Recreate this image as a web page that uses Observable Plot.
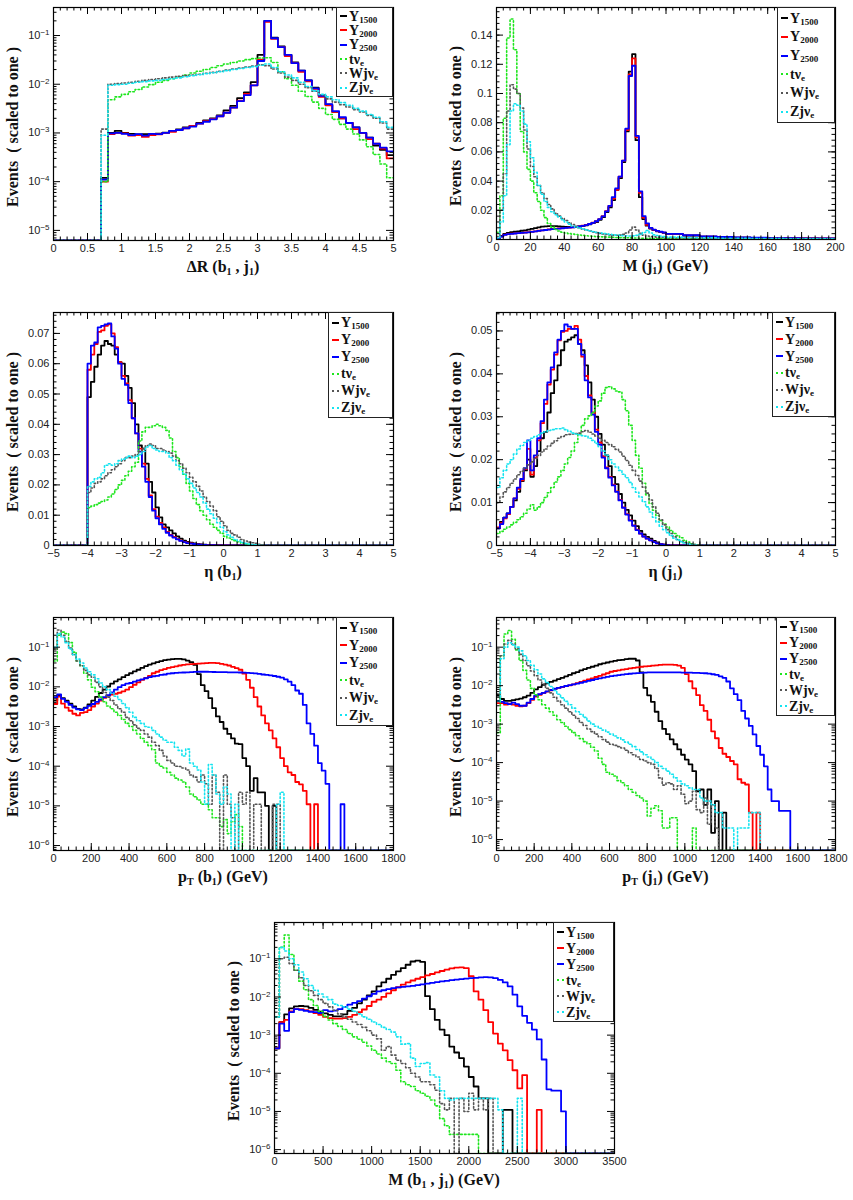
<!DOCTYPE html>
<html><head><meta charset="utf-8">
<script src="https://cdn.jsdelivr.net/npm/d3@7"></script>
<script src="https://cdn.jsdelivr.net/npm/@observablehq/plot@0.6"></script>
<style>
html,body{margin:0;padding:0;background:#fff;}
#page{position:relative;width:853px;height:1200px;overflow:hidden;background:#fff;}
.plot{position:absolute;}
.plot svg{display:block;overflow:visible;}
.ttl{position:absolute;font-family:"Liberation Serif","Times New Roman",serif;font-weight:bold;font-size:16px;color:#111;white-space:nowrap;line-height:1;}
.ttl sub{font-size:10px;vertical-align:-3px;line-height:0;}
.ytl{font-size:16px;}
.leg{position:absolute;box-sizing:border-box;border:1px solid #222;background:#fff;display:flex;flex-direction:column;justify-content:space-around;padding:1px 0;}
.leg .row{display:flex;align-items:center;height:13px;line-height:13px;font-family:"Liberation Serif","Times New Roman",serif;font-weight:bold;font-size:14px;color:#111;white-space:nowrap;}
.leg .smp{display:inline-block;width:7px;height:0;margin:0 2px 0 3px;}
.leg sub{font-size:9px;vertical-align:-2px;line-height:0;}
</style></head>
<body><div id="page"></div>
<script>
// ---------- legend ----------
const legNames = ["Y","Y","Y","tν","Wjν","Zjν"];
const legSubs = ["1500","2000","2500","e","e","e"];
const colors = ["#000000","#ff0000","#0000ff","#1ee61e","#555555","#14e4f0"];
const dotted = [false,false,false,true,true,true];

// ---------- Panel 1: ΔR(b1,j1), bins of 0.1 from 0.7 ----------
const dR_Y1500 = [1.2e-4,1.0e-3,1.1e-3,1.0e-3,9.6e-4,9.3e-4,9.5e-4,9.5e-4,9.7e-4,1.02e-3,1.1e-3,1.18e-3,1.3e-3,1.4e-3,1.6e-3,1.8e-3,2.0e-3,2.3e-3,2.9e-3,3.6e-3,5.2e-3,6.8e-3,1.1e-2,4.0e-2,0.2,0.09,0.06,0.04,0.028,0.019,0.012,0.0085,0.0058,0.0038,0.0027,0.002,0.0016,0.0013,0.001,8e-4,5.5e-4,4.5e-4,3.5e-4];
const dR_Y2000 = [1.0e-4,9.5e-4,1.0e-3,9.8e-4,8.8e-4,9.0e-4,8.3e-4,9.0e-4,9.4e-4,1.0e-3,1.05e-3,1.15e-3,1.25e-3,1.4e-3,1.55e-3,1.75e-3,1.95e-3,2.2e-3,2.6e-3,3.3e-3,4.6e-3,6.3e-3,9.5e-3,3.2e-2,0.19,0.085,0.058,0.038,0.027,0.018,0.0115,0.008,0.0055,0.0037,0.0027,0.002,0.0016,0.0012,0.001,7.5e-4,6e-4,4.8e-4,3e-4];
const dR_Y2500 = [1.1e-4,9.8e-4,1.0e-3,9.6e-4,9.0e-4,9.5e-4,8.8e-4,9.6e-4,9.5e-4,1.0e-3,1.1e-3,1.15e-3,1.25e-3,1.35e-3,1.55e-3,1.7e-3,1.9e-3,2.2e-3,2.6e-3,3.3e-3,4.5e-3,6.0e-3,9.5e-3,3.0e-2,0.2,0.088,0.058,0.04,0.027,0.019,0.012,0.0082,0.0058,0.0039,0.0028,0.0021,0.0016,0.0013,0.001,8e-4,6e-4,5e-4,4.2e-4];
const dR_tv = [1.0e-4,4.8e-3,5.5e-3,6.2e-3,7.0e-3,7.8e-3,8.8e-3,9.8e-3,1.1e-2,1.2e-2,1.3e-2,1.42e-2,1.55e-2,1.7e-2,1.85e-2,2.0e-2,2.2e-2,2.4e-2,2.6e-2,2.8e-2,3.0e-2,3.2e-2,3.35e-2,3.45e-2,3.5e-2,2.8e-2,1.8e-2,1.3e-2,9.5e-3,7.2e-3,5.6e-3,4.3e-3,3.2e-3,2.4e-3,1.9e-3,1.5e-3,1.2e-3,9.5e-4,7.2e-4,5.2e-4,3.6e-4,2.3e-4,1.2e-4];
const dR_Wjv = [1.2e-3,1.0e-2,1.03e-2,1.06e-2,1.1e-2,1.15e-2,1.2e-2,1.25e-2,1.3e-2,1.35e-2,1.4e-2,1.45e-2,1.5e-2,1.55e-2,1.6e-2,1.68e-2,1.75e-2,1.85e-2,1.95e-2,2.05e-2,2.15e-2,2.25e-2,2.35e-2,2.5e-2,2.4e-2,2.05e-2,1.7e-2,1.4e-2,1.2e-2,1.0e-2,8.5e-3,7.2e-3,6.0e-3,5.0e-3,4.3e-3,3.8e-3,3.4e-3,3.0e-3,2.7e-3,2.3e-3,2.0e-3,1.6e-3,1.2e-3];
const dR_Zjv = [9e-4,9.5e-3,9.8e-3,1.0e-2,1.05e-2,1.1e-2,1.13e-2,1.17e-2,1.2e-2,1.25e-2,1.3e-2,1.35e-2,1.42e-2,1.5e-2,1.57e-2,1.65e-2,1.72e-2,1.8e-2,1.9e-2,2.0e-2,2.1e-2,2.2e-2,2.3e-2,2.45e-2,2.6e-2,2.2e-2,1.8e-2,1.55e-2,1.35e-2,1.1e-2,9.0e-3,7.3e-3,6.2e-3,5.5e-3,4.8e-3,4.2e-3,3.7e-3,3.2e-3,2.8e-3,2.4e-3,2.1e-3,1.7e-3,1.3e-3];

// ---------- Panel 2: M(j1), 2 GeV bins to 100, then 10 GeV bins ----------
const mJ_Y1500 = [0.0003,0.0025,0.0038,0.0045,0.005,0.0053,0.0056,0.006,0.0063,0.0068, 0.0073,0.0078,0.0083,0.0088,0.009,0.0092,0.0092,0.0091,0.009,0.0088, 0.0087,0.0086,0.0086,0.0087,0.0089,0.0092,0.0097,0.0104,0.0112,0.012, 0.0135,0.0153,0.0187,0.022,0.027,0.034,0.042,0.053,0.074,0.115, 0.127,0.068,0.029,0.014,0.0095,0.0075,0.0064,0.0056,0.005,0.0045, 0.0037,0.0027,0.0019,0.0015,0.0012,0.001,0.0009,0.0008,0.0007,0.0006];
const mJ_Y2000 = [0.0003,0.002,0.0033,0.0038,0.004,0.0042,0.0044,0.0046,0.0048,0.005, 0.0053,0.0056,0.006,0.0063,0.0066,0.0069,0.0072,0.0074,0.0076,0.0078, 0.008,0.0082,0.0084,0.0087,0.009,0.0095,0.01,0.0107,0.0115,0.0125, 0.014,0.016,0.0195,0.023,0.028,0.034,0.043,0.054,0.075,0.113, 0.124,0.07,0.032,0.015,0.01,0.0078,0.0066,0.0058,0.0052,0.0047, 0.0038,0.0028,0.002,0.0016,0.0013,0.0011,0.001,0.0009,0.0008,0.0007];
const mJ_Y2500 = [0.0003,0.002,0.0032,0.0037,0.0039,0.0041,0.0043,0.0045,0.0047,0.0049, 0.0052,0.0055,0.0059,0.0062,0.0065,0.0068,0.0071,0.0073,0.0075,0.0077, 0.0079,0.0081,0.0083,0.0086,0.009,0.0094,0.0099,0.0106,0.0114,0.0125, 0.014,0.0158,0.0192,0.023,0.029,0.035,0.043,0.054,0.076,0.112, 0.119,0.071,0.033,0.016,0.011,0.008,0.0067,0.0059,0.0053,0.0048, 0.0039,0.0029,0.0021,0.0017,0.0014,0.0012,0.001,0.0009,0.0008,0.0007];
const mJ_tv = [0.005,0.03,0.083,0.138,0.151,0.13,0.1,0.074,0.06,0.048, 0.04,0.032,0.026,0.02,0.015,0.011,0.0085,0.0068,0.0058,0.005, 0.0045,0.004,0.0037,0.0034,0.0031,0.0028,0.0026,0.0024,0.0022,0.002, 0.0019,0.0018,0.0017,0.0016,0.0015,0.0014,0.0013,0.0012,0.0012,0.0011, 0.001,0.001,0.0009,0.0009,0.0008,0.0008,0.0007,0.0007,0.0006,0.0006, 0.0005,0.0004,0.0003,0.0003,0.0002,0.0002,0.0002,0.0001,0.0001,0.0001];
const mJ_Wjv = [0.002,0.02,0.045,0.088,0.106,0.103,0.1,0.09,0.075,0.062, 0.05,0.043,0.037,0.032,0.028,0.024,0.021,0.018,0.016,0.0145, 0.013,0.0115,0.0102,0.009,0.008,0.0072,0.0065,0.0058,0.0052,0.0047, 0.0042,0.0038,0.0035,0.0032,0.003,0.0029,0.003,0.0035,0.0045,0.0065, 0.0085,0.0065,0.0042,0.003,0.0024,0.002,0.0018,0.0016,0.0015,0.0014, 0.0012,0.001,0.0008,0.0007,0.0006,0.0005,0.0004,0.0004,0.0003,0.0003];
const mJ_Zjv = [0.001,0.012,0.03,0.065,0.088,0.093,0.092,0.088,0.079,0.067, 0.056,0.046,0.037,0.031,0.026,0.022,0.019,0.017,0.0155,0.0135, 0.012,0.0105,0.0092,0.0085,0.0078,0.0072,0.0066,0.006,0.0055,0.005, 0.0046,0.0042,0.0039,0.0035,0.0032,0.003,0.0028,0.0026,0.0025,0.0024, 0.0025,0.0028,0.0035,0.0048,0.0062,0.0045,0.0032,0.0027,0.0023,0.002, 0.0016,0.0013,0.0011,0.0009,0.0008,0.0007,0.0006,0.0005,0.0005,0.0004];

// ---------- Panel 3: η(b1), bins of 0.1 from -4 ----------
const etaB_Y1500 = [0.049,0.054,0.059,0.063,0.066,0.0675,0.0665,0.066,0.063,0.0605, 0.06,0.056,0.052,0.047,0.04,0.033,0.032,0.027,0.021,0.0175, 0.0126,0.0093,0.007,0.006,0.005,0.004,0.003,0.0023,0.0016,0.0012, 0.0009,0.0007,0.0005,0.0004,0.0003,0.0002,0.0002,0.0001,0.0001,0.0001,0.00005];
const etaB_Y2000 = [0.058,0.063,0.0665,0.0705,0.071,0.0725,0.073,0.07,0.0655,0.0605, 0.056,0.0535,0.048,0.042,0.037,0.032,0.027,0.022,0.0165,0.012, 0.0095,0.0075,0.006,0.0045,0.0035,0.0028,0.0021,0.0016,0.0012,0.0009, 0.0007,0.0005,0.0004,0.0003,0.0002,0.0002,0.0001,0.0001,0.00005,0.00005,0];
const etaB_Y2500 = [0.06,0.066,0.067,0.072,0.0725,0.073,0.0733,0.069,0.065,0.06, 0.055,0.053,0.047,0.042,0.037,0.031,0.026,0.021,0.016,0.0115, 0.009,0.007,0.0055,0.0042,0.0033,0.0026,0.002,0.0015,0.0011,0.0008, 0.0006,0.0005,0.0004,0.0003,0.0002,0.0001,0.0001,0.0001,0.00005,0,0];
const etaB_tv = [0.0125,0.013,0.0135,0.014,0.0145,0.015,0.016,0.017,0.0185,0.02, 0.0215,0.023,0.0245,0.026,0.0275,0.0345,0.0375,0.039,0.039,0.0395, 0.04,0.0395,0.039,0.038,0.0355,0.031,0.029,0.026,0.0235,0.0205, 0.018,0.0155,0.0135,0.0115,0.01,0.0085,0.007,0.006,0.005,0.004, 0.003,0.0025,0.002,0.0016,0.0012,0.0008,0.0005,0.0003,0.0001,0.00005,0,0];
const etaB_Wjv = [0.0175,0.019,0.0205,0.021,0.022,0.023,0.024,0.025,0.026,0.027, 0.028,0.029,0.029,0.0295,0.03,0.031,0.032,0.033,0.0335,0.033, 0.032,0.032,0.0315,0.031,0.0305,0.0295,0.028,0.027,0.0255,0.024, 0.0225,0.021,0.0195,0.018,0.016,0.0145,0.013,0.0115,0.0095,0.008, 0.0065,0.005,0.004,0.0035,0.0027,0.002,0.0015,0.0011,0.0009,0.0007,0.0004,0.0002];
const etaB_Zjv = [0.0195,0.021,0.022,0.0225,0.024,0.0265,0.027,0.0265,0.027,0.028, 0.0285,0.029,0.0295,0.029,0.0295,0.03,0.031,0.0325,0.033,0.032, 0.0315,0.031,0.031,0.0305,0.029,0.028,0.0265,0.025,0.0235,0.022, 0.0205,0.019,0.0175,0.016,0.014,0.012,0.0105,0.009,0.0075,0.006, 0.0045,0.0035,0.0027,0.002,0.0015,0.001,0.0007,0.0005,0.0003,0.0002,0.0001,0];

// ---------- Panel 4: η(j1), bins of 0.1 from -5 ----------
const etaJ_Y1500 = [0.004,0.0055,0.0065,0.0075,0.009,0.0105,0.0125,0.015,0.0175,0.02, 0.016,0.0185,0.022,0.025,0.0265,0.031,0.0355,0.0385,0.042,0.0455, 0.0475,0.048,0.0485,0.049,0.047,0.0455,0.042,0.038,0.034,0.03, 0.026,0.0235,0.021,0.0185,0.016,0.0143,0.012,0.01,0.0083,0.007, 0.0058,0.0045,0.0034,0.0026,0.002,0.0016,0.0011,0.0007,0.0004,0.0002,0.0001];
const etaJ_Y2000 = [0.0042,0.0052,0.0063,0.0073,0.009,0.011,0.0132,0.0152,0.0178,0.0225, 0.0165,0.0205,0.0245,0.0285,0.033,0.0375,0.041,0.0445,0.0478,0.0498, 0.05,0.0505,0.0505,0.0512,0.048,0.044,0.0395,0.035,0.031,0.027, 0.024,0.0208,0.0182,0.016,0.0142,0.0126,0.0106,0.0089,0.0073,0.0059, 0.0047,0.0037,0.0028,0.0021,0.0016,0.0012,0.0008,0.0005,0.0003,0.0002,0.0001];
const etaJ_Y2500 = [0.004,0.005,0.0065,0.0075,0.009,0.011,0.0135,0.0155,0.018,0.0245, 0.0175,0.021,0.025,0.029,0.034,0.038,0.0415,0.045,0.048,0.05, 0.0515,0.051,0.0505,0.0505,0.047,0.0445,0.0385,0.0345,0.0305,0.0265, 0.0235,0.0205,0.018,0.0158,0.014,0.0125,0.0105,0.0088,0.0072,0.0058, 0.0046,0.0036,0.0028,0.0021,0.0016,0.0012,0.0008,0.0005,0.0003,0.0002,0.0001];
const etaJ_tv = [0.0028,0.0033,0.0038,0.0043,0.0048,0.0054,0.006,0.0067,0.0075,0.0085, 0.0095,0.0082,0.009,0.01,0.0112,0.0123,0.0135,0.0148,0.016,0.0175, 0.019,0.0205,0.022,0.024,0.026,0.028,0.0295,0.0302,0.031,0.0325, 0.0337,0.0355,0.0368,0.037,0.0365,0.036,0.0358,0.034,0.0314,0.028, 0.0245,0.021,0.018,0.0145,0.0118,0.0098,0.0082,0.007,0.0058,0.005, 0.0043,0.0035,0.0028,0.0023,0.0018,0.0012,0.0008,0.0004,0.0002,0.0001];
const etaJ_Wjv = [0.01,0.0113,0.0125,0.0135,0.0145,0.0155,0.0165,0.0173,0.018,0.0188, 0.0195,0.0203,0.021,0.0218,0.0225,0.0232,0.0238,0.0244,0.025,0.0254, 0.0258,0.0259,0.026,0.0261,0.0262,0.0265,0.0268,0.0264,0.026,0.0255, 0.025,0.0245,0.024,0.0235,0.023,0.0224,0.0218,0.0208,0.0198,0.0187, 0.0175,0.0163,0.015,0.0136,0.0122,0.0106,0.009,0.0075,0.006,0.0048, 0.0037,0.0028,0.002,0.0014,0.001,0.0007,0.0005,0.0003,0.0002,0.0001];
const etaJ_Zjv = [0.0135,0.0158,0.0175,0.019,0.02,0.0213,0.0225,0.0233,0.024,0.0245, 0.025,0.0254,0.0258,0.0262,0.0265,0.0268,0.027,0.0272,0.0272,0.0274, 0.027,0.0266,0.0262,0.026,0.0258,0.0256,0.0255,0.025,0.0245,0.0238, 0.023,0.022,0.021,0.02,0.019,0.0183,0.0175,0.0166,0.0158,0.0147, 0.0135,0.0124,0.0113,0.0102,0.009,0.0078,0.0066,0.0055,0.0045,0.0037, 0.003,0.0023,0.0017,0.0013,0.0009,0.0006,0.0004,0.0002,0.0001,0];

// ---------- Panel 5: pT(b1), 20 GeV bins ----------
const ptB_Y1500 = [0.0045,0.0062,0.0052,0.0045,0.0038,0.0032,0.0028,0.0027,0.003,0.0036, 0.0045,0.0056,0.007,0.0085,0.0102,0.012,0.0138,0.0155,0.0175,0.0198, 0.022,0.0245,0.027,0.03,0.0335,0.0365,0.039,0.042,0.0445,0.047, 0.0485,0.05,0.051,0.0505,0.049,0.046,0.042,0.036,0.021,0.011, 0.0078,0.0052,0.0029,0.0018,0.0013,0.00088,0.00065,0.0005,0.00037,0.00036, 0.00016,0.0001,0.000024,0.00005,0.000022,0.000022,0.00001,0,0.00001,0];
const ptB_Y2000 = [0.0037,0.0057,0.0038,0.003,0.0025,0.0021,0.0019,0.0022,0.0023,0.0026, 0.0032,0.0038,0.0045,0.0053,0.006,0.0064,0.0067,0.0071,0.0077,0.0085, 0.0098,0.0113,0.013,0.015,0.0168,0.019,0.022,0.024,0.0265,0.028, 0.03,0.0315,0.033,0.0345,0.036,0.037,0.0375,0.038,0.0385,0.039, 0.0395,0.04,0.04,0.0395,0.038,0.0365,0.0345,0.032,0.0295,0.027, 0.0215,0.015,0.0095,0.0055,0.0032,0.0019,0.0012,0.0008,0.0005,0.0003, 0.00016,0.0001,0.00007,0.00006,0.00004,0.000035,0.000024,0.000011,0,0.000011];
const ptB_Y2500 = [0.0055,0.0065,0.005,0.0042,0.0035,0.003,0.0027,0.0026,0.0029,0.0033, 0.0037,0.0042,0.0048,0.0055,0.0062,0.0072,0.0085,0.0098,0.011,0.012, 0.0125,0.0135,0.0145,0.0155,0.0165,0.0175,0.0185,0.019,0.02,0.0205, 0.0215,0.022,0.0225,0.0228,0.023,0.0232,0.0235,0.0238,0.024,0.024, 0.024,0.0238,0.0237,0.0236,0.0235,0.0234,0.0233,0.0232,0.0231,0.023, 0.0228,0.0225,0.0222,0.0218,0.0212,0.0205,0.02,0.0195,0.0188,0.018, 0.017,0.0155,0.0135,0.011,0.0081,0.0067,0.0035,0.0012,0.00065,0.00033, 0.00012,0.000077,0.000036,0,0,0,0.000011,0];
const ptB_tv = [0.045,0.2,0.24,0.22,0.13,0.075,0.045,0.034,0.022,0.015, 0.0098,0.0075,0.0055,0.0042,0.0033,0.0028,0.0023,0.0019,0.0015,0.0012, 0.001,0.0008,0.00065,0.0005,0.0004,0.00033,0.00026,0.00012,0.0001,0.00009, 0.00007,0.00006,0.00005,0.000045,0.00004,0.00003,0.00002,0.000017,0.000014,0.000011, 0.000011,0.000008,0.000005,0.000005,0.000003,0.0000045,0.000002,0.000004,0.000006,0.000003, 0];
const ptB_Wjv = [0.09,0.27,0.2,0.14,0.095,0.065,0.045,0.034,0.026,0.02, 0.0175,0.013,0.01,0.0072,0.0055,0.0045,0.0035,0.0028,0.0023,0.0017, 0.0014,0.0011,0.0009,0.0008,0.00065,0.00054,0.0004,0.00033,0.00025,0.00018, 0.00014,0.00012,0.0001,0.000098,0.00009,0.00008,0.00006,0.000053,0.00004,0.00006, 0.000036,0.000011,0.00006,0.000022,0,0.00006,0.000011,0.000005,0,0.000022, 0.000011,0.000022,0,0.000011,0.000011,0,0,0,0.000011,0.000011];
const ptB_Zjv = [0.1,0.22,0.18,0.13,0.09,0.065,0.05,0.04,0.03,0.024, 0.02,0.016,0.0125,0.01,0.0085,0.007,0.0058,0.0048,0.0038,0.003, 0.0023,0.0017,0.0014,0.0012,0.001,0.00096,0.0008,0.00065,0.00054,0.00045, 0.0004,0.0004,0.0003,0.00025,0.00018,0.00027,0.00012,0.0001,0.00008,0.00004, 0.000011,0.00011,0.00006,0.00002,0.000011,0.00003,0.00002,0,0.000011,0, 0,0,0,0,0,0,0,0,0,0.000011, 0.000022,0];

// ---------- Panel 6: pT(j1), 20 GeV bins ----------
const ptJ_Y1500 = [0.0055,0.0045,0.004,0.004,0.0042,0.0044,0.0046,0.005,0.0055,0.0065, 0.008,0.0092,0.0105,0.0115,0.0125,0.0135,0.0148,0.016,0.0175,0.019, 0.021,0.0225,0.025,0.027,0.029,0.031,0.033,0.036,0.038,0.04, 0.042,0.044,0.046,0.047,0.049,0.05,0.05,0.045,0.022,0.0088, 0.0056,0.0038,0.0021,0.0012,0.00075,0.00055,0.0004,0.0003,0.00022,0.00016, 0.00012,0.00009,0.00006,0.000018,0.00002,0.000008,0.00002,0.0000015,0.00001,0, 0.000005,0];
const ptJ_Y2000 = [0.0035,0.0035,0.0032,0.0034,0.0032,0.003,0.0029,0.003,0.0035,0.0043, 0.0052,0.0058,0.0064,0.007,0.0076,0.0082,0.0087,0.0092,0.0097,0.0102, 0.0108,0.0116,0.0125,0.0135,0.0145,0.0155,0.0168,0.018,0.0195,0.021, 0.023,0.024,0.025,0.026,0.027,0.028,0.029,0.03,0.031,0.0315, 0.032,0.033,0.0338,0.0345,0.035,0.0352,0.035,0.0345,0.033,0.029, 0.02,0.013,0.0085,0.0057,0.0031,0.0022,0.0013,0.00065,0.00043,0.00024, 0.00017,0.00014,0.00011,0.00009,0.000037,0.00003,0.000027,0.000005,0,0.000005];
const ptJ_Y2500 = [0.004,0.0038,0.0035,0.0033,0.0036,0.0033,0.003,0.003,0.0036,0.0045, 0.0055,0.006,0.0065,0.0071,0.0077,0.0083,0.0088,0.0093,0.0098,0.0103, 0.0108,0.0113,0.0119,0.0126,0.0133,0.014,0.0148,0.0155,0.0162,0.017, 0.0176,0.0182,0.0188,0.0194,0.0199,0.0204,0.0208,0.0212,0.0215,0.0218, 0.022,0.0221,0.0222,0.0222,0.0222,0.0222,0.0221,0.022,0.022,0.0219, 0.0218,0.0217,0.0216,0.0214,0.0212,0.021,0.0205,0.0198,0.019,0.0175, 0.016,0.0128,0.0085,0.006,0.0042,0.0022,0.0014,0.0009,0.00054,0.00027, 0.00016,0.00008,0.00002,0.00001,0.00001,0.0000056,0.0000056,0.0000056,0];
const ptJ_tv = [0.0006,0.06,0.22,0.27,0.16,0.085,0.045,0.025,0.014,0.0085, 0.0058,0.0043,0.0032,0.0026,0.0021,0.0017,0.0013,0.0011,0.00088,0.00072, 0.0006,0.0005,0.00042,0.00035,0.00031,0.00025,0.0002,0.00013,0.00009,0.000056, 0.00005,0.000045,0.000034,0.00003,0.000025,0.00002,0.000017,0.000014,0.000012,0.00001, 0.0000041,0.0000065,0.0000076,0.0000056,0.000002,0.000002,0.0000037,0.0000037,0,0, 0,0,0.000002,0];
const ptJ_Wjv = [0.006,0.06,0.12,0.15,0.12,0.09,0.065,0.045,0.033,0.024, 0.018,0.014,0.011,0.0085,0.0065,0.005,0.004,0.0032,0.0026,0.0021, 0.0017,0.0014,0.0011,0.00092,0.00075,0.00064,0.00055,0.00047,0.0004,0.00034, 0.0003,0.00028,0.00026,0.00024,0.00021,0.00018,0.00016,0.00014,0.00012,0.00011, 0.0001,0.00009,0.00007,0.00004,0.000026,0.00003,0.000028,0.00002,0.000025,0.000015, 0.0000085,0.00001,0.000018,0.000006,0.000005,0.000012,0.0000025,0.000008,0.000002,0];
const ptJ_Zjv = [0.004,0.05,0.1,0.13,0.115,0.1,0.08,0.06,0.045,0.034, 0.026,0.02,0.015,0.012,0.0095,0.0075,0.006,0.0048,0.0039,0.0032, 0.0026,0.0021,0.0018,0.0015,0.0012,0.001,0.00088,0.00078,0.0007,0.00062, 0.00055,0.00049,0.00044,0.00039,0.00034,0.0003,0.00026,0.00022,0.00019,0.00016, 0.00014,0.00012,0.0001,0.00008,0.00007,0.00006,0.00005,0.00004,0.000033,0.000028, 0.000025,0.000022,0.00002,0.00002,0.000012,0.00001,0.00001,0.000008,0.000005,0.000005, 0.000002,0.000002,0.000002,0,0.000002,0.000002,0.000002,0.000005,0.000005,0.000005,0];

// ---------- Panel 7: M(b1,j1), 50 GeV bins ----------
const mBJ_Y1500 = [0.00045,0.0022,0.0035,0.005,0.0057,0.0058,0.0057,0.0052,0.0046,0.0041, 0.0037,0.0034,0.0031,0.0031,0.0035,0.0043,0.0052,0.0068,0.0085,0.011, 0.014,0.019,0.024,0.03,0.038,0.047,0.057,0.07,0.085,0.09, 0.083,0.0105,0.0048,0.0025,0.0014,0.001,0.0005,0.00035,0.00025,0.00015, 0.00008,0.000045,0.000022,0.000022,0,0,0,0.000011,0.000011,0];
const mBJ_Y2000 = [0.00045,0.0022,0.0025,0.0042,0.0048,0.0048,0.0045,0.0042,0.0038,0.0034, 0.003,0.0028,0.0027,0.0027,0.0028,0.003,0.0034,0.004,0.0047,0.0058, 0.0075,0.0085,0.01,0.0125,0.015,0.018,0.021,0.024,0.027,0.03, 0.033,0.037,0.04,0.044,0.048,0.052,0.056,0.059,0.06,0.057, 0.035,0.014,0.0085,0.0045,0.0022,0.0011,0.0006,0.0004,0.00022,0.00012, 0.00004,0.00009,0,0,0.000011,0];
const mBJ_Y2500 = [0.00045,0.002,0.0013,0.004,0.0048,0.0046,0.0043,0.0041,0.004,0.0038, 0.0045,0.0042,0.0044,0.0048,0.0055,0.0063,0.007,0.0078,0.009,0.0104, 0.012,0.014,0.015,0.016,0.017,0.0178,0.0185,0.019,0.0195,0.0205, 0.0215,0.0225,0.0235,0.0245,0.0256,0.0265,0.0275,0.0285,0.0295,0.0303, 0.031,0.0318,0.0325,0.033,0.0325,0.031,0.028,0.024,0.019,0.0115, 0.0057,0.0032,0.0021,0.0014,0.00077,0.00023,0.000038,0.000035,0.000035,0.00001];
const mBJ_tv = [0.003,0.2,0.42,0.13,0.05,0.026,0.0155,0.0085,0.006,0.0042, 0.0031,0.0025,0.002,0.0017,0.0014,0.0011,0.0009,0.00078,0.00065,0.00052, 0.0004,0.00032,0.00025,0.0002,0.00018,0.00012,0.00006,0.00005,0.000045,0.000035, 0.00003,0.000025,0.00002,0.000014,0.0000065,0.0000042,0.0000025,0.0000025,0.0000025,0.0000025, 0.0000025,0.0000025,0];
const mBJ_Wjv = [0.003,0.1,0.11,0.075,0.05,0.032,0.02,0.0145,0.011,0.0085, 0.0068,0.0055,0.0045,0.0036,0.003,0.0026,0.0022,0.0019,0.0016,0.0013, 0.001,0.0008,0.0004,0.0005,0.0003,0.00022,0.00018,0.00014,0.0001,0.00008, 0.00006,0.00006,0.00005,0.000036,0.000016,0.000011,0.000022,0,0.000022,0.00001, 0.00003,0.000011,0.000022,0.000011,0.000022,0];
const mBJ_Zjv = [0.003,0.2,0.16,0.1,0.07,0.045,0.03,0.02,0.015,0.012, 0.01,0.0085,0.0065,0.006,0.0055,0.0048,0.0042,0.0036,0.003,0.0026, 0.0022,0.0019,0.0016,0.0014,0.0012,0.0009,0.00058,0.0006,0.00025,0.00015, 0.00018,0.00019,0.00009,0.00008,0.000035,0.000022,0.00002,0.000022,0.000022,0.000022, 0.000022,0.000022,0.000022,0.000022,0.000022,0.000022,0.000011,0,0,0, 0.000022,0];

// ---------- helpers ----------
const uni = (start, w) => i => +(start + i * w).toFixed(6);
const mJedge = i => i <= 50 ? 2 * i : 100 + (i - 50) * 10;
const logFmt = d => "10^" + Math.round(Math.log10(d));
const decTicks = (a, b) => { const t = []; for (let e = -8; e <= 1; e++) { const v = Math.pow(10, e); if (v >= a && v <= b) t.push(v); } return t; };
const logMinor = (a, b) => { const t = []; for (let e = -8; e <= 1; e++) for (let k = 2; k <= 9; k++) { const v = k * Math.pow(10, e); if (v > a && v < b) t.push(v); } return t; };
const linFmt = d => d === 0 ? "0" : (+d.toFixed(3)).toString();
const negFmt = d => d < 0 ? "\u2212" + (-d) : String(d);

const panels = [
  {f:{l:53,t:7,w:340,h:233}, x:[0,5], y:[6.2e-6,0.376], log:true,
   xt:d3.range(0,5.001,0.5), xm:d3.range(0,5.001,0.1), xf:d=>String(+d.toFixed(1)),
   s:[dR_Y1500,dR_Y2000,dR_Y2500,dR_tv,dR_Wjv,dR_Zjv], se:uni(0.7,0.1), be:uni(0.7,0.1),
   leg:{l:336,t:7,w:57,h:90}, xtitle:"ΔR (b<sub>1</sub> , j<sub>1</sub>)"},
  {f:{l:496,t:7,w:339,h:232}, x:[0,200], y:[0,0.1589], log:false,
   xt:d3.range(0,201,20), xm:d3.range(0,201,4), xf:String, yt:[0,0.02,0.04,0.06,0.08,0.1,0.12,0.14], ym:d3.range(0,0.1589,0.004),
   s:[mJ_Y1500,mJ_Y2000,mJ_Y2500,mJ_tv,mJ_Wjv,mJ_Zjv], se:mJedge, be:mJedge,
   leg:{l:777,t:7,w:58,h:116}, xtitle:"M (j<sub>1</sub>) (GeV)"},
  {f:{l:53,t:312,w:340,h:233}, x:[-5,5], y:[0,0.0769], log:false,
   xt:d3.range(-5,5.001,1), xm:d3.range(-5,5.001,0.2), xf:negFmt, yt:[0,0.01,0.02,0.03,0.04,0.05,0.06,0.07], ym:d3.range(0,0.0769,0.002),
   s:[etaB_Y1500,etaB_Y2000,etaB_Y2500,etaB_tv,etaB_Wjv,etaB_Zjv], se:uni(-4,0.1), be:uni(-4,0.1),
   leg:{l:328,t:312,w:65,h:106}, xtitle:"η (b<sub>1</sub>)"},
  {f:{l:496,t:312,w:339,h:233}, x:[-5,5], y:[0,0.0543], log:false,
   xt:d3.range(-5,5.001,1), xm:d3.range(-5,5.001,0.2), xf:negFmt, yt:[0,0.01,0.02,0.03,0.04,0.05], ym:d3.range(0,0.0543,0.002),
   s:[etaJ_Y1500,etaJ_Y2000,etaJ_Y2500,etaJ_tv,etaJ_Wjv,etaJ_Zjv], se:uni(-5,0.1), be:uni(-5,0.1),
   leg:{l:772,t:312,w:63,h:105}, xtitle:"η (j<sub>1</sub>)"},
  {f:{l:53,t:617,w:340,h:233}, x:[0,1800], y:[7.5e-7,0.56], log:true,
   xt:d3.range(0,1801,200), xm:d3.range(0,1801,40), xf:String,
   s:[ptB_Y1500,ptB_Y2000,ptB_Y2500,ptB_tv,ptB_Wjv,ptB_Zjv], se:uni(0,20), be:uni(0,20),
   leg:{l:336,t:617,w:57,h:109}, xtitle:"p<sub>T</sub> (b<sub>1</sub>) (GeV)"},
  {f:{l:496,t:617,w:339,h:233}, x:[0,1800], y:[5.2e-7,0.59], log:true,
   xt:d3.range(0,1801,200), xm:d3.range(0,1801,40), xf:String,
   s:[ptJ_Y1500,ptJ_Y2000,ptJ_Y2500,ptJ_tv,ptJ_Wjv,ptJ_Zjv], se:uni(0,20), be:uni(0,20),
   leg:{l:776,t:617,w:59,h:99}, xtitle:"p<sub>T</sub> (j<sub>1</sub>) (GeV)"},
  {f:{l:274,t:922,w:340,h:231}, x:[0,3500], y:[7.9e-7,0.895], log:true,
   xt:d3.range(0,3501,500), xm:d3.range(0,3501,100), xf:String,
   s:[mBJ_Y1500,mBJ_Y2000,mBJ_Y2500,mBJ_tv,mBJ_Wjv,mBJ_Zjv], se:uni(0,50), be:uni(0,50),
   leg:{l:553,t:922,w:61,h:100}, xtitle:"M (b<sub>1</sub> , j<sub>1</sub>) (GeV)"}
];

function stepPoints(vals, edge, floor, x0, x1) {
  const pts = [];
  if (edge(0) > x0) pts.push({x: x0, y: floor});
  vals.forEach((v, i) => pts.push({x: edge(i), y: v > 0 ? v : floor}));
  const n = vals.length, end = edge(n);
  const last = vals[n - 1] > 0 ? vals[n - 1] : floor;
  pts.push({x: Math.min(end, x1), y: last});
  if (end < x1) { pts.push({x: end, y: floor}); pts.push({x: x1, y: floor}); }
  return pts;
}

const page = document.getElementById("page");
const ML = 50, MR = 6, MT = 6, MB = 26;
const NS = "http://www.w3.org/2000/svg";

panels.forEach(p => {
  const {l, t, w, h} = p.f;
  const floor = p.y[0];
  const yt = p.log ? decTicks(p.y[0], p.y[1]) : p.yt;
  const ym = p.log ? logMinor(p.y[0], p.y[1]) : p.ym;
  const marks = [];
  p.s.forEach((vals, k) => {
    const edge = k < 3 ? p.se : p.be;
    marks.push(Plot.line(stepPoints(vals, edge, floor, p.x[0], p.x[1]), {
      x: "x", y: "y", curve: "step-after", stroke: colors[k],
      strokeWidth: dotted[k] ? 1.6 : 1.8,
      strokeDasharray: dotted[k] ? "1.6,2.2" : null, clip: true
    }));
  });
  const LT = 7, ST = 3.5;
  const rs = {stroke: "#000", strokeWidth: 1};
  marks.push(
    Plot.ruleX(p.xt, {...rs, insetTop: h - LT}), Plot.ruleX(p.xt, {...rs, insetBottom: h - LT}),
    Plot.ruleX(p.xm, {...rs, insetTop: h - ST}), Plot.ruleX(p.xm, {...rs, insetBottom: h - ST}),
    Plot.ruleY(yt, {...rs, insetRight: w - LT}), Plot.ruleY(yt, {...rs, insetLeft: w - LT}),
    Plot.ruleY(ym, {...rs, insetRight: w - ST}), Plot.ruleY(ym, {...rs, insetLeft: w - ST}),
    Plot.frame({stroke: "#000", strokeWidth: 1.2}),
    Plot.axisX(p.xt, {tickSize: 0, tickPadding: 4, tickFormat: p.xf, fontSize: 11, label: null}),
    Plot.axisY(yt, {tickSize: 0, tickPadding: 4, tickFormat: p.log ? logFmt : linFmt, fontSize: 11, label: null})
  );
  const svg = Plot.plot({
    width: w + ML + MR, height: h + MT + MB,
    marginLeft: ML, marginRight: MR, marginTop: MT, marginBottom: MB,
    x: {domain: p.x, label: null},
    y: {type: p.log ? "log" : "linear", domain: p.y, label: null},
    style: {fontFamily: "'Liberation Sans', Arial, Helvetica, sans-serif", fontSize: "11px", color: "#222", background: "transparent"},
    marks
  });
  svg.querySelectorAll("text").forEach(tx => {
    const m = /^10\^(-?\d+)$/.exec(tx.textContent);
    if (m) {
      tx.textContent = "10";
      const ts = document.createElementNS(NS, "tspan");
      ts.setAttribute("dy", "-0.5em");
      ts.setAttribute("font-size", "8");
      ts.textContent = m[1].replace("-", "\u2212");
      tx.appendChild(ts);
    }
  });
  const holder = document.createElement("div");
  holder.className = "plot";
  holder.style.left = (l - ML) + "px";
  holder.style.top = (t - MT) + "px";
  holder.appendChild(svg);
  page.appendChild(holder);

  const xt = document.createElement("div");
  xt.className = "ttl";
  xt.innerHTML = p.xtitle;
  xt.style.left = (l + w / 2) + "px";
  xt.style.top = (t + h + 27) + "px";
  xt.style.transform = "translate(-50%,-50%)";
  page.appendChild(xt);
  const yl = document.createElement("div");
  yl.className = "ttl ytl";
  yl.textContent = "Events  ( scaled to one )";
  yl.style.whiteSpace = "pre";
  yl.style.left = (l - 40) + "px";
  yl.style.top = (t + h / 2 + 3) + "px";
  yl.style.transform = "translate(-50%,-50%) rotate(-90deg)";
  page.appendChild(yl);

  const lg = document.createElement("div");
  lg.className = "leg";
  Object.assign(lg.style, {left: p.leg.l + "px", top: p.leg.t + "px", width: p.leg.w + "px", height: p.leg.h + "px"});
  legNames.forEach((n, k) => {
    const row = document.createElement("div");
    row.className = "row";
    const smp = document.createElement("span");
    smp.className = "smp";
    smp.style.borderTop = (dotted[k] ? "2px dotted " : "2px solid ") + colors[k];
    const lab = document.createElement("span");
    lab.innerHTML = n + "<sub>" + legSubs[k] + "</sub>";
    row.appendChild(smp);
    row.appendChild(lab);
    lg.appendChild(row);
  });
  page.appendChild(lg);
});
</script>
</body></html>
